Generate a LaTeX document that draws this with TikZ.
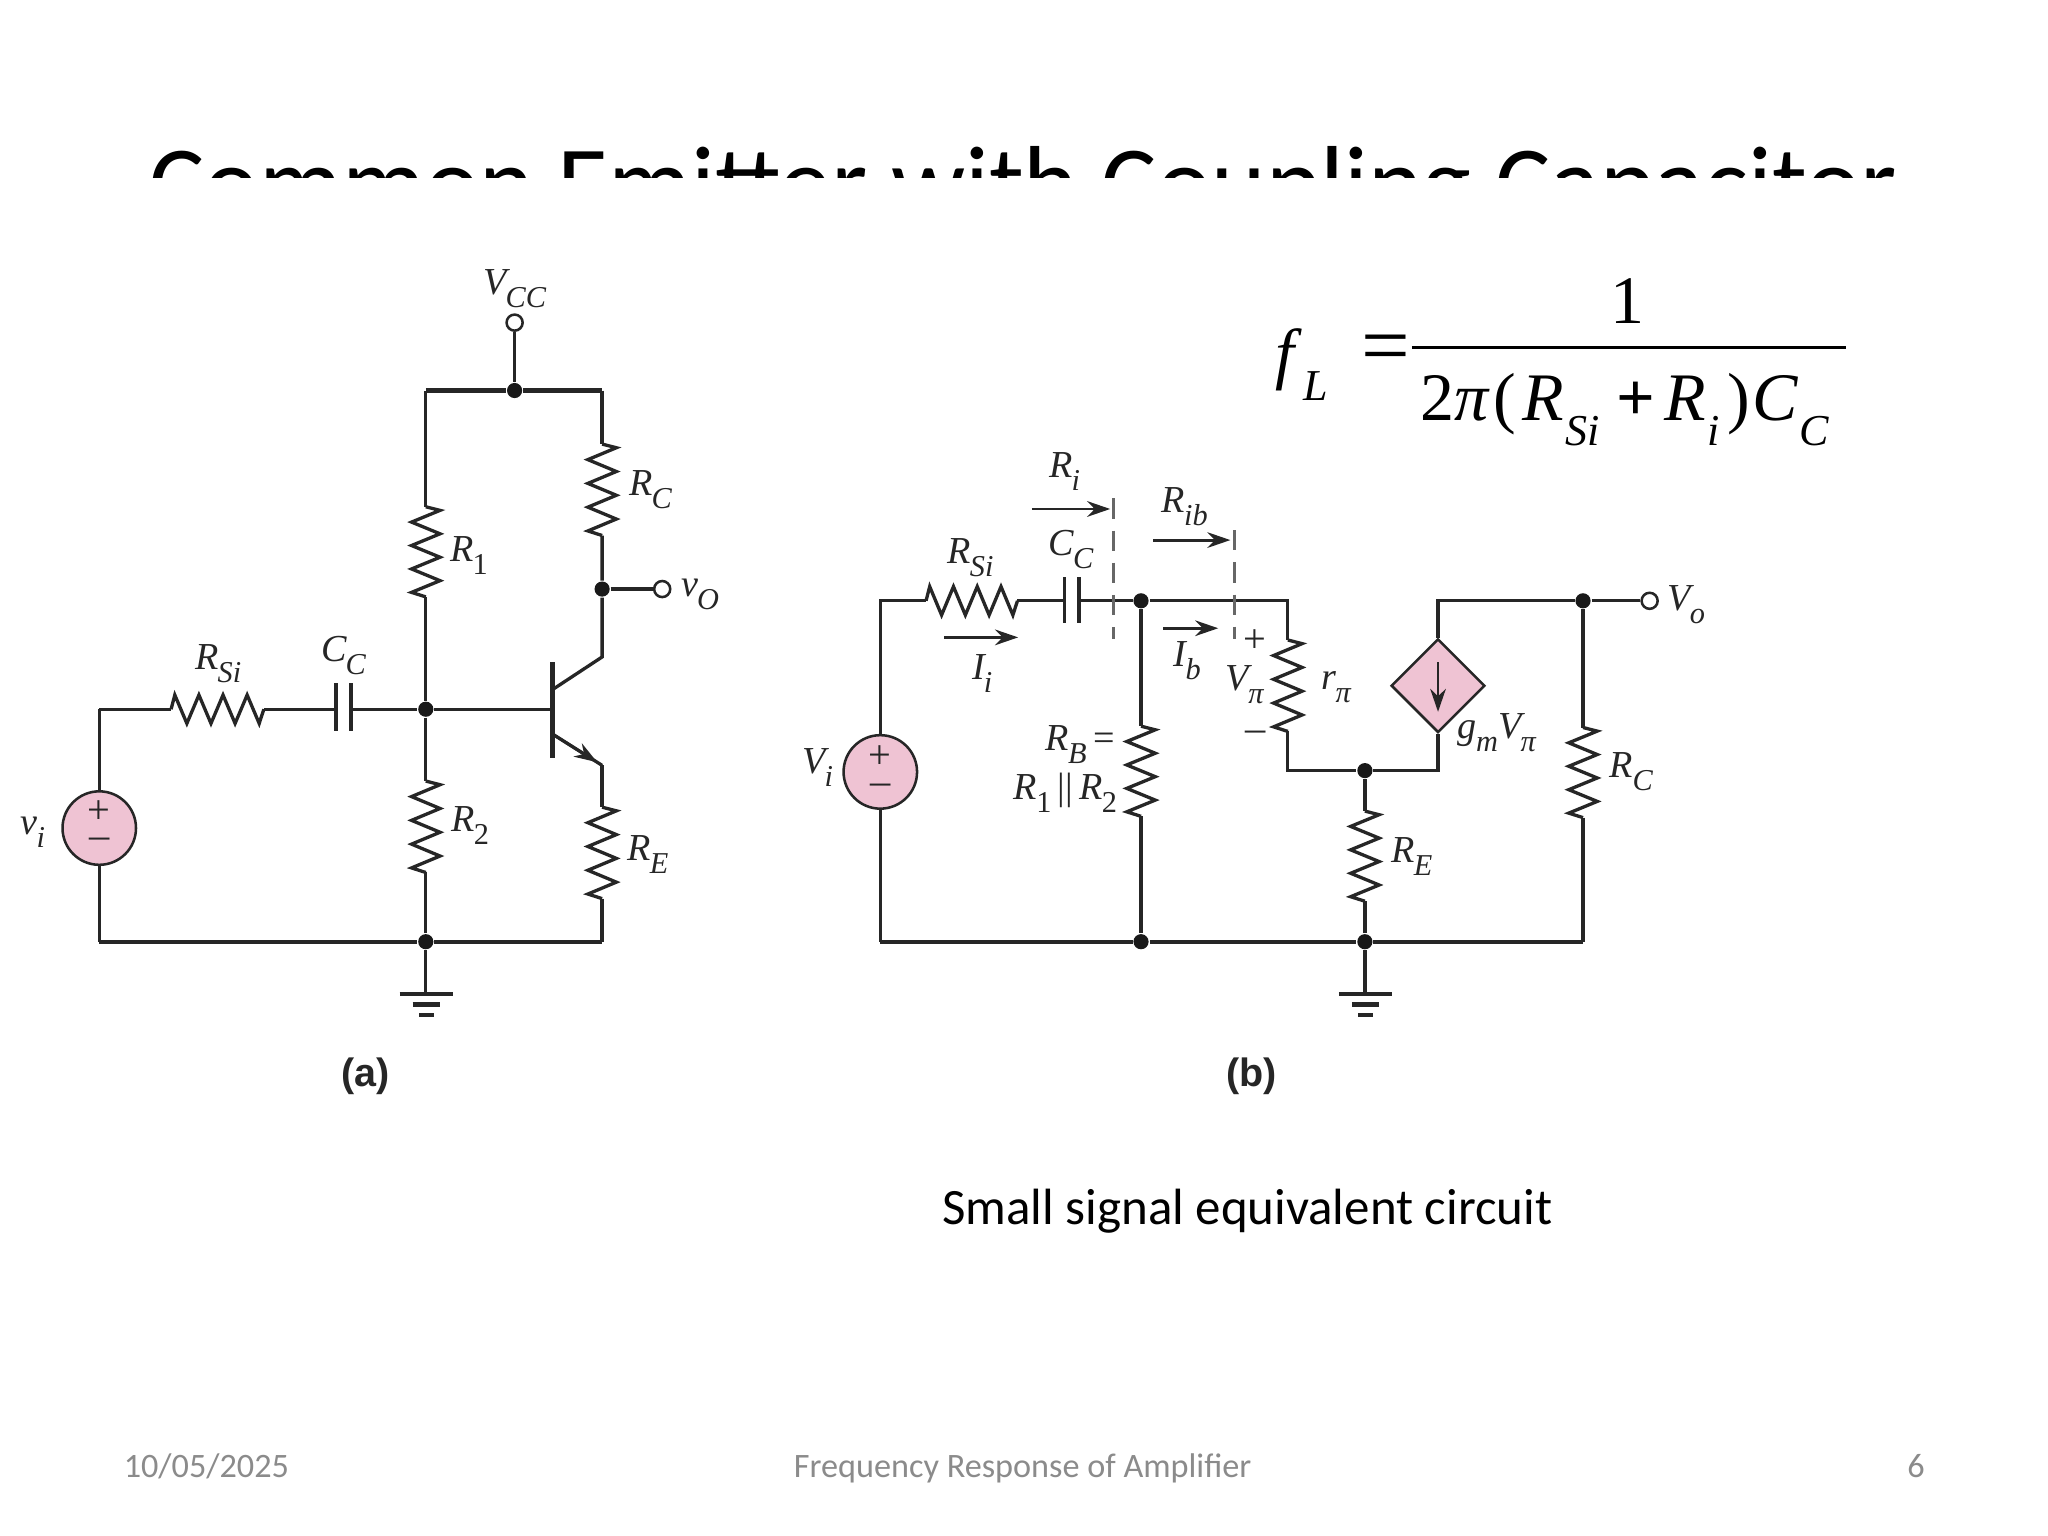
\documentclass[tikz,border=0pt]{standalone}
\usepackage{fontspec}
\setmainfont{Liberation Serif}
\newfontfamily\slidefont{Carlito}
\newfontfamily\capfont{Liberation Sans}
\usetikzlibrary{calc,arrows.meta,shapes.geometric}
\definecolor{ink}{HTML}{262626}
\definecolor{srcpink}{HTML}{EFC3D3}
\definecolor{footgray}{HTML}{8B8B8B}
\tikzset{
  wire/.style={draw=ink,line width=0.72pt,line join=miter},
  heavy/.style={draw=ink,line width=0.95pt,line join=miter},
  plate/.style={draw=ink,line width=0.8pt},
  probe/.style={draw=ink!70,line width=0.6pt,dash pattern=on 4.4pt off 2.6pt},
  flow/.style={draw=ink,line width=0.62pt,-{Stealth[length=5pt,width=3.4pt]}},
  junction/.style={circle,fill=black!90,inner sep=0pt,minimum size=3.3pt},
  terminal/.style={circle,draw=ink,fill=white,line width=0.55pt,inner sep=0pt,minimum size=3.5pt},
  source/.style={circle,draw=ink,fill=srcpink,line width=0.55pt,inner sep=0pt,minimum size=16pt},
  depsource/.style={diamond,draw=ink,fill=srcpink,line width=0.55pt,inner sep=0pt,minimum width=20.4pt,minimum height=20.4pt},
  lab/.style={text=ink,font=\fontsize{8.3}{9}\selectfont\itshape,inner sep=0pt},
  sign/.style={text=ink,font=\fontsize{8.8}{9}\selectfont,inner sep=0pt},
  panel/.style={text=ink,font=\capfont\bfseries\fontsize{8.6}{10}\selectfont,inner sep=0pt},
  foot/.style={text=footgray,font=\slidefont\fontsize{7.45}{9}\selectfont,inner sep=0pt,anchor=base},
  note/.style={text=black,font=\slidefont\fontsize{11.1}{13}\selectfont,inner sep=0pt},
  eqn/.style={text=black,font=\fontsize{14.8}{16}\selectfont,inner sep=0pt},
}
\newcommand{\Sb}[2]{#1\kern-0.02em\raisebox{-0.34em}{\fontsize{6.6}{7}\selectfont #2}}
\newcommand{\Eb}[2]{\textit{#1}\kern0.02em\raisebox{-0.36em}{\fontsize{9.6}{11}\selectfont\textit{#2}}}
\newcommand{\zz}[4]{($(#1)!#3!(#2)!#4!90:(#2)$)}
\newcommand{\resistor}[2]{\draw[wire] (#1) -- \zz{#1}{#2}{0.04}{3.1pt} -- \zz{#1}{#2}{0.17}{-3.1pt} -- \zz{#1}{#2}{0.30}{3.1pt} -- \zz{#1}{#2}{0.43}{-3.1pt} -- \zz{#1}{#2}{0.56}{3.1pt} -- \zz{#1}{#2}{0.69}{-3.1pt} -- \zz{#1}{#2}{0.82}{3.1pt} -- \zz{#1}{#2}{0.95}{-3.1pt} -- (#2);}
\begin{document}
\begin{tikzpicture}[x=0.01cm,y=-0.01cm]
\useasboundingbox (0,0) rectangle (1568,1176);
\fill[white] (0,0) rectangle (1568,1176);
% title, cut off by the picture below it
\begin{scope}
\clip (0,0) rectangle (1568,136);
\node[anchor=base,inner sep=0pt,font=\slidefont\fontsize{22.6}{26}\selectfont] (title) at (783.5,167) {Common Emitter with Coupling Capacitor};
\end{scope}

% ---------- circuit (a) ----------
\node[terminal] (vcc) at (394,247) {};
\node[junction] (atop) at (394,299) {};
\coordinate (atl) at (326,299);
\coordinate (atr) at (461,299);
\coordinate (r1t) at (326,388);
\coordinate (r1b) at (326,457);
\node[junction] (abase) at (326,543) {};
\coordinate (r2t) at (326,598);
\coordinate (r2b) at (326,668);
\node[junction] (abot) at (326,721) {};
\coordinate (agnd) at (326,761);
\coordinate (rct) at (461,340);
\coordinate (rcb) at (461,410);
\node[junction] (aout) at (461,451) {};
\node[terminal] (vo) at (507,451) {};
\coordinate (cj) at (461,503);
\coordinate (bj) at (423,528);
\coordinate (ej) at (423,562);
\coordinate (ee) at (461,586);
\coordinate (ret) at (461,618);
\coordinate (reb) at (461,688);
\coordinate (abr) at (461,721);
\coordinate (abl) at (76,721);
\coordinate (ail) at (76,543);
\node[source] (vis) at (76,634) {};
\coordinate (rsl) at (131,543);
\coordinate (rsr) at (202,543);
\coordinate (capl) at (257.5,543);
\coordinate (capr) at (268.5,543);
\coordinate (bbar) at (423,543);

\draw[wire] (vcc) -- (atop);
\draw[heavy] (atl) -- (atop) -- (atr);
\draw[wire] (atl) -- (r1t);
\resistor{r1t}{r1b}
\draw[wire] (r1b) -- (abase) -- (r2t);
\resistor{r2t}{r2b}
\draw[wire] (r2b) -- (abot) -- (agnd);
\draw[wire] (atr) -- (rct);
\resistor{rct}{rcb}
\draw[wire] (rcb) -- (aout) -- (cj) -- (bj);
\draw[wire] (aout) -- (vo);
\draw[heavy] (423,507) -- (423,580);
\draw[wire] (abase) -- (bbar);
\draw[wire] (ej) -- (ee);
\draw[flow] (ej) -- ($(ej)!0.9!(ee)$);
\draw[wire] (ee) -- (ret);
\resistor{ret}{reb}
\draw[wire] (reb) -- (abr);
\draw[heavy] (abl) -- (abot) -- (abr);
\draw[wire] (abl) -- (vis);
\draw[wire] (vis) -- (ail);
\draw[wire] (ail) -- (rsl);
\resistor{rsl}{rsr}
\draw[wire] (rsr) -- (capl);
\draw[wire] (capr) -- (abase);
\draw[plate] (257.5,523) -- (257.5,560);
\draw[plate] (268.5,523) -- (268.5,560);
\draw[heavy] (306,761) -- (347,761);
\draw[heavy] (316,769) -- (337,769);
\draw[heavy] (321,777) -- (332,777);
\node[sign] (visp) at (76,622) {+};
\node[sign] (vism) at (76,646) {–};

\node[lab] (lvcc) at (394,221) {\Sb{V}{CC}};
\node[lab] (lrc) at (498,375) {\Sb{R}{C}};
\node[lab] (lr1) at (359,425) {\Sb{R}{\upshape 1}};
\node[lab] (lvo) at (536,455) {\Sb{v}{O}};
\node[lab] (lrs) at (167,508) {\Sb{R}{Si}};
\node[lab] (lcc) at (263,502) {\Sb{C}{C}};
\node[lab] (lvi) at (25,637) {\Sb{v}{i}};
\node[lab] (lr2) at (360,632) {\Sb{R}{\upshape 2}};
\node[lab] (lre) at (496,654) {\Sb{R}{E}};
\node[panel] (pa) at (280,824) {(a)};

% ---------- circuit (b) ----------
\coordinate (bil) at (674,460);
\node[source] (vib) at (674,591) {};
\coordinate (bbl) at (674,721);
\coordinate (brl) at (709,460);
\coordinate (brr) at (779,460);
\coordinate (bcl) at (815,460);
\coordinate (bcr) at (826,460);
\node[junction] (bin) at (873.6,460) {};
\coordinate (rbt) at (873.6,556);
\coordinate (rbb) at (873.6,625);
\node[junction] (bbn) at (873.6,721) {};
\coordinate (rpc) at (986,460);
\coordinate (rpt) at (986,490);
\coordinate (rpb) at (986,560);
\coordinate (rpe) at (986,590);
\node[junction] (bem) at (1045,590) {};
\coordinate (bret) at (1045,621);
\coordinate (breb) at (1045,690);
\node[junction] (bgn) at (1045,721) {};
\coordinate (bgnd) at (1045,761);
\node[depsource] (gm) at (1101,525) {};
\coordinate (gmt) at (1101,460);
\coordinate (gmb) at (1101,590);
\node[junction] (bout) at (1212,460) {};
\node[terminal] (vob) at (1263,460) {};
\coordinate (brct) at (1212,557);
\coordinate (brcb) at (1212,626);
\coordinate (bbr) at (1212,721);

\draw[wire] (vib) -- (bil) -- (brl);
\resistor{brl}{brr}
\draw[wire] (brr) -- (bcl);
\draw[wire] (bcr) -- (bin);
\draw[plate] (815,442) -- (815,477);
\draw[plate] (826,442) -- (826,477);
\draw[wire] (bin) -- (rpc) -- (rpt);
\resistor{rpt}{rpb}
\draw[wire] (rpb) -- (rpe) -- (bem);
\draw[wire] (bin) -- (rbt);
\resistor{rbt}{rbb}
\draw[wire] (rbb) -- (bbn);
\draw[wire] (vib) -- (bbl);
\draw[heavy] (bbl) -- (bbn) -- (bgn) -- (bbr);
\draw[wire] (bem) -- (bret);
\resistor{bret}{breb}
\draw[wire] (breb) -- (bgn) -- (bgnd);
\draw[wire] (bem) -- (gmb) -- (gm);
\draw[wire] (gm) -- (gmt) -- (bout) -- (vob);
\draw[wire] (bout) -- (brct);
\resistor{brct}{brcb}
\draw[wire] (brcb) -- (bbr);
\draw[heavy] (1025,761) -- (1066,761);
\draw[heavy] (1035,769) -- (1056,769);
\draw[heavy] (1040,777) -- (1051,777);
\draw[flow] (1101,507) -- (1101,545);
\node[sign] (vibp) at (674,580) {+};
\node[sign] (vibm) at (674,604) {–};

\draw[probe] (852.5,381.6) -- (852.5,489);
\draw[probe] (945,406) -- (945,489);
\draw[flow] (790,389.7) -- (850,389.7);
\draw[flow] (883,413.5) -- (942,413.5);
\draw[flow] (723,488) -- (779.5,488);
\draw[flow] (890.6,481) -- (932.7,481);

\node[lab] (bri) at (815,361) {\Sb{R}{i}};
\node[lab] (brib) at (907,388) {\Sb{R}{ib}};
\node[lab] (bcc) at (820,421) {\Sb{C}{C}};
\node[lab] (brs) at (743,427) {\Sb{R}{Si}};
\node[lab] (bii) at (752,516) {\Sb{I}{i}};
\node[lab] (bib) at (909,506) {\Sb{I}{b}};
\node[sign] (bvp) at (961,491) {+};
\node[lab] (bvpi) at (953,524) {\Sb{V}{π}};
\node[sign] (bvm) at (961,564) {–};
\node[lab] (bvi) at (626,588) {\Sb{V}{i}};
\node[lab,anchor=east] (brb) at (854,570) {\Sb{R}{B}\,{\upshape =}};
\node[lab,anchor=east] (brp) at (856,607) {\Sb{R}{\upshape 1}\,{\upshape ||}\,\Sb{R}{\upshape 2}};
\node[lab] (brpi) at (1023,526) {\Sb{r}{π}};
\node[lab] (bgm) at (1146,561) {\Sb{g}{m}\Sb{V}{π}};
\node[lab] (bvo) at (1291,463) {\Sb{V}{o}};
\node[lab] (brc2) at (1249,591) {\Sb{R}{C}};
\node[lab] (bre2) at (1081,656) {\Sb{R}{E}};
\node[panel] (pb) at (958,824) {(b)};

% ---------- formula ----------
\coordinate (barl) at (1081,266);
\coordinate (barr) at (1413,266);
\draw[draw=black,line width=0.6pt] (barl) -- (barr);
\node[eqn,anchor=base] (fnum) at (1246,248) {1};
\node[eqn,anchor=base] (fden) at (1244,322) {2\textit{π}\kern0.05em(\kern0.1em\Eb{R}{Si}\kern0.24em\textbf{+}\kern0.14em\Eb{R}{i}\kern0.12em)\kern0.03em\Eb{C}{C}};
\node[eqn,anchor=base west] (ffl) at (976,288) {\Eb{f}{L}};
\node[eqn,anchor=base,font=\fontsize{18.8}{20}\selectfont] (feq) at (1061,287) {=};

% ---------- slide text ----------
\node[note] (caption) at (955,927) {Small signal equivalent circuit};
\node[foot] (fdate) at (158,1131) {10/05/2025};
\node[foot] (fname) at (783,1131) {Frequency Response of Amplifier};
\node[foot] (fpage) at (1467,1131) {6};
\end{tikzpicture}
\end{document}
